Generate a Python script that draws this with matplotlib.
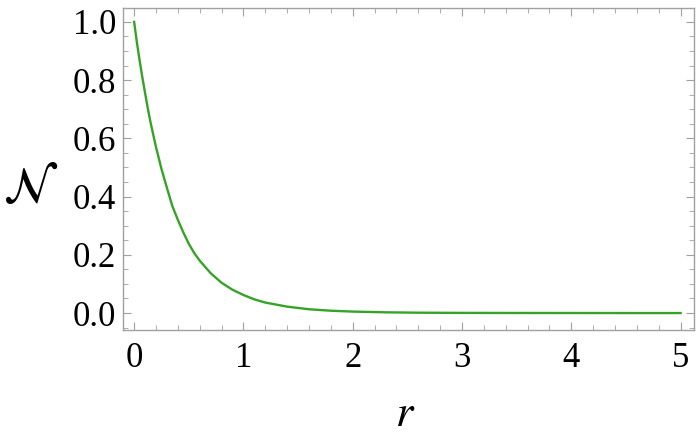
import matplotlib.pyplot as plt
from matplotlib.ticker import MultipleLocator

plt.rcParams['font.family'] = ['Liberation Serif', 'DejaVu Serif']
plt.rcParams['mathtext.fontset'] = 'stix'

# values
r_vals = [0.0, 0.025, 0.05, 0.075, 0.1, 0.125, 0.15, 0.2, 0.25, 0.3, 0.35, 0.4,
          0.45, 0.5, 0.55, 0.6, 0.7, 0.8, 0.9, 1.0, 1.1, 1.2, 1.4, 1.6, 1.8,
          2.0, 2.3, 2.6, 3.0, 3.5, 4.0, 4.5, 5.0]
n_vals = [1.0, 0.93, 0.868, 0.81, 0.756, 0.703, 0.655, 0.57, 0.495, 0.43, 0.367, 0.32,
          0.277, 0.238, 0.206, 0.18, 0.137, 0.104, 0.08, 0.062, 0.047, 0.036, 0.022, 0.013, 0.008,
          0.005, 0.0025, 0.0012, 0.0005, 0.0002, 0.0001, 0.0, 0.0]

x_ticks = [0, 1, 2, 3, 4, 5]
y_ticks = [0.0, 0.2, 0.4, 0.6, 0.8, 1.0]

fig = plt.figure(figsize=(7, 4.37), dpi=100)
ax = fig.add_axes([0.176, 0.245, 0.815, 0.737])

ax.plot(r_vals, n_vals, color='#35a326', lw=1.7)

ax.set_xlim(-0.1, 5.12)
ax.set_ylim(-0.058, 1.048)
ax.set_xticks(x_ticks)
ax.set_yticks(y_ticks)
ax.set_yticklabels([f'{v:.1f}' for v in y_ticks])
ax.xaxis.set_minor_locator(MultipleLocator(0.2))
ax.yaxis.set_minor_locator(MultipleLocator(0.05))

for s in ax.spines.values():
    s.set_color('#a0a0a0')
    s.set_linewidth(1.0)
ax.tick_params(which='both', direction='in', top=True, right=True, color='#a0a0a0')
ax.tick_params(which='major', length=6, width=0.8, labelsize=25)
ax.tick_params(which='minor', length=3.5, width=0.6)
ax.tick_params(axis='x', labeltop=False, pad=9)
ax.tick_params(axis='y', labelright=False, pad=5)

ax.set_xlabel(r'$r$', fontsize=32, va='center')
ax.xaxis.set_label_coords(0.494, -0.265)
ax.set_ylabel(r'$\mathcal{N}$', fontsize=36, rotation=0, va='center', ha='center')
ax.yaxis.set_label_coords(-0.163, 0.435)

fig.savefig('out.png', dpi=100)
